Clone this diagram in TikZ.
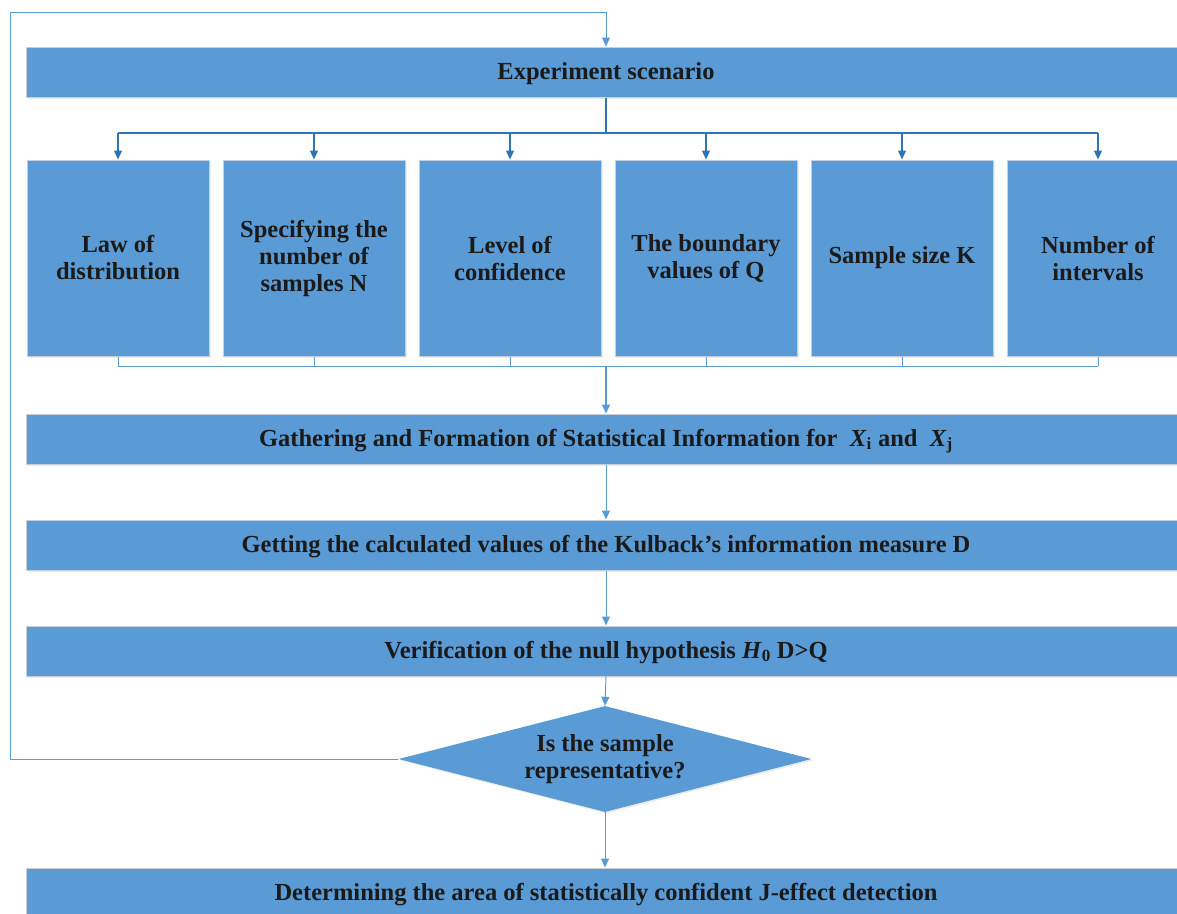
\documentclass[tikz,border=0pt]{standalone}
\usepackage{fontspec}
\setmainfont{Liberation Serif}
\usetikzlibrary{shapes.geometric,arrows.meta,shadows}
\definecolor{boxblue}{HTML}{5B9BD5}
\definecolor{darkline}{HTML}{2E75B6}
\definecolor{lightline}{HTML}{5B9BD5}
\definecolor{edgecol}{HTML}{C5D0DC}
\definecolor{txt}{HTML}{1A1A1A}
\begin{document}
\begin{tikzpicture}[x=1pt,y=-1pt,
  font=\fontsize{24.5}{27}\selectfont\bfseries,
  blk/.style={rectangle,fill=boxblue,draw=edgecol,line width=1pt,text=txt,align=center,inner sep=0pt,
    drop shadow={shadow xshift=1.5pt,shadow yshift=-1.5pt,fill=black!12,opacity=0.6}},
  wide/.style={blk,minimum width=1180pt,minimum height=50pt,text height=19pt,text depth=5pt},
  small/.style={blk,minimum width=182pt,minimum height=196pt},
  dia/.style={diamond,fill=boxblue,text=txt,align=center,inner sep=0pt,minimum width=413pt,minimum height=106pt,aspect=3.9,
    drop shadow={shadow xshift=1.5pt,shadow yshift=-1.5pt,fill=black!12,opacity=0.6}},
  darr/.style={draw=darkline,line width=1.3pt},
  larr/.style={draw=lightline,line width=1pt},
  tip/.style={-{Triangle[width=8pt,length=9pt]}},
]
\useasboundingbox (0,0) rectangle (1177,913);
\clip (0,0) rectangle (1177,913);
\coordinate (cx) at (606,0);
\coordinate (busT) at (606,133);
\coordinate (busB) at (606,366);
\coordinate (loopTL) at (10,12);

\node[wide] (top) at (616,72) {\hspace*{-20pt}Experiment scenario};
\node[small] (b1) at (118,258) {Law of\\distribution};
\node[small] (b2) at (314,258) {Specifying the\\number of\\samples N};
\node[small] (b3) at (510,258) {Level of\\confidence};
\node[small] (b4) at (706,258) {The boundary\\values of Q};
\node[small] (b5) at (902,258) {Sample size K};
\node[small] (b6) at (1098,258) {Number of\\intervals};
\node[wide] (gath) at (616,439) {\hspace*{-20pt}Gathering and Formation of Statistical Information for~~\textit{X}\textsubscript{i}~and~~\textit{X}\textsubscript{j}};
\node[wide] (getv) at (616,545) {\hspace*{-20pt}Getting the calculated values of the Kulback’s information measure D};
\node[wide] (veri) at (616,651) {\hspace*{-20pt}Verification of the null hypothesis \textit{H}\textsubscript{0} D>Q};
\node[dia] (dec) at (605,759) {Is the sample\\representative?};
\node[wide] (det) at (616,893) {\hspace*{-20pt}Determining the area of statistically confident J-effect detection};

% distribution bus
\draw[darr] (cx |- top.south) -- (busT);
\draw[darr] (b1.north |- busT) -- (b6.north |- busT);
\foreach \b in {b1,b2,b3,b4,b5,b6}
  \draw[darr,tip] (\b.north |- busT) -- (\b.north);
% collection bus
\foreach \b in {b1,b2,b3,b4,b5,b6}
  \draw[larr] (\b.south) -- (\b.south |- busB);
\draw[larr] (b1.south |- busB) -- (b6.south |- busB);
\draw[larr,line width=1.6pt,tip] (busB) -- (cx |- gath.north);
% main chain
\draw[larr,tip] (cx |- gath.south) -- (cx |- getv.north);
\draw[larr,tip] (cx |- getv.south) -- (cx |- veri.north);
\draw[larr,tip] (cx |- veri.south) -- (dec.north);
\draw[larr,tip] (dec.south) -- (dec.south |- det.north);
% loop back
\draw[larr,tip] (dec.west) -| (loopTL) -| (cx |- top.north);
\end{tikzpicture}
\end{document}
